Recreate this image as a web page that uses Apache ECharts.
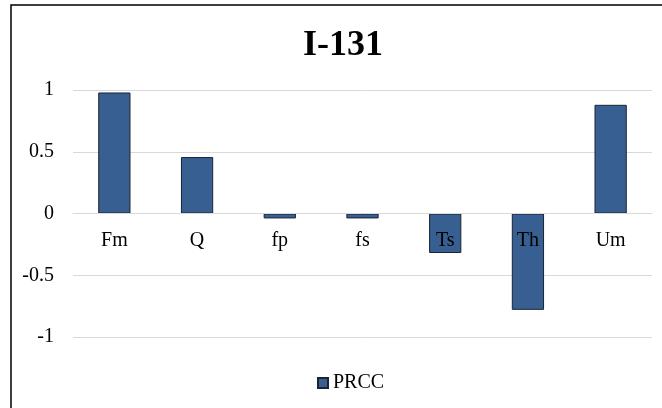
<!DOCTYPE html>
<html>
<head>
<meta charset="utf-8">
<script src="https://cdn.jsdelivr.net/npm/echarts@6/dist/echarts.min.js"></script>
<style>html,body{margin:0;padding:0;background:#fff}#c{width:662px;height:408px}</style>
</head>
<body>
<div id="c"></div>
<script>
const categories = ['Fm', 'Q', 'fp', 'fs', 'Ts', 'Th', 'Um'];
const prcc = [0.98, 0.457, -0.04, -0.04, -0.32, -0.78, 0.88];
const seriesName = 'PRCC';
const titleText = 'I-131';

const font = '"Liberation Serif", "Times New Roman", serif';
const chart = echarts.init(document.getElementById('c'), null, {renderer: 'canvas'});
chart.setOption({
  animation: false,
  backgroundColor: '#fff',
  title: {
    text: titleText, left: 338, top: 23, textAlign: 'center',
    textStyle: {fontFamily: font, fontSize: 36, fontWeight: 'bold', color: '#000'}
  },
  legend: {
    data: [seriesName], left: 312, top: 368, icon: 'rect', itemWidth: 10, itemHeight: 10,
    textStyle: {fontFamily: font, fontSize: 20, color: '#000'}
  },
  grid: {left: 73, right: 10, top: 90, bottom: 71, containLabel: false},
  xAxis: {
    type: 'category', data: categories, z: 10, position: 'bottom', offset: -123.5,
    axisLine: {onZero: false, lineStyle: {color: '#d9d9d9', width: 1}},
    axisTick: {show: false},
    axisLabel: {fontFamily: font, fontSize: 20, color: '#000', margin: 17, interval: 0}
  },
  yAxis: {
    type: 'value', min: -1, max: 1, interval: 0.5,
    axisLine: {show: false}, axisTick: {show: false},
    splitLine: {lineStyle: {color: '#d9d9d9', width: 1}},
    axisLabel: {fontFamily: font, fontSize: 20, color: '#000', margin: 19}
  },
  series: [{
    name: seriesName, type: 'bar', data: prcc, barWidth: '39%',
    itemStyle: {color: '#375F91', borderColor: '#1b2333', borderWidth: 1}
  }],
  graphic: [{
    type: 'rect', z: 100, silent: true,
    shape: {x: 11, y: 5, width: 720, height: 520},
    style: {fill: 'none', stroke: '#000', lineWidth: 1.5}
  }]
});
</script>
</body>
</html>
